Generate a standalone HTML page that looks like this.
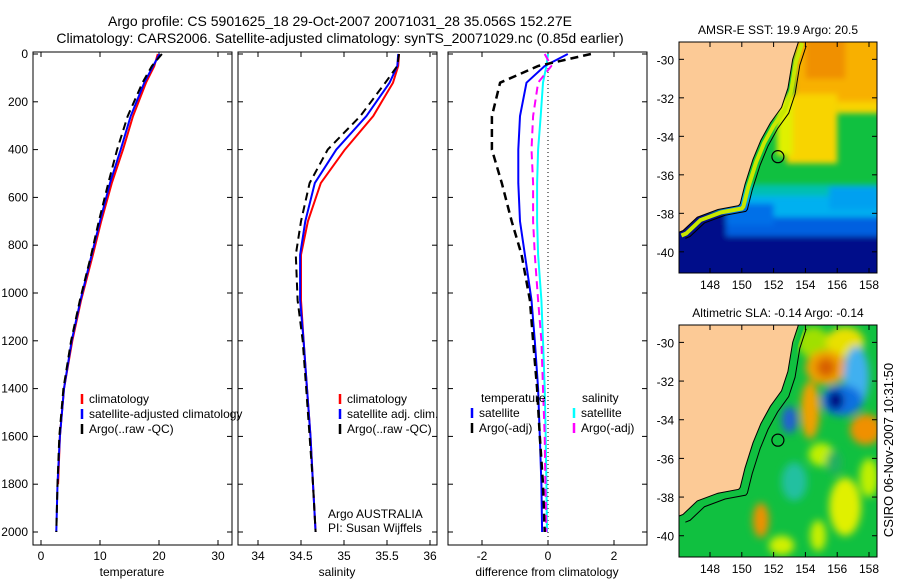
<!DOCTYPE html>
<html><head><meta charset="utf-8"><style>
body{margin:0;background:#fff;font-family:"Liberation Sans",sans-serif}
svg text{font-family:"Liberation Sans",sans-serif}
</style></head><body>
<svg id="s" width="900" height="580" viewBox="0 0 900 580" xmlns="http://www.w3.org/2000/svg">
<defs>
<filter id="bl" x="-20%" y="-20%" width="140%" height="140%"><feGaussianBlur stdDeviation="3"/></filter>
<filter id="bl2" x="-50%" y="-50%" width="200%" height="200%"><feGaussianBlur stdDeviation="4"/></filter>
<clipPath id="c1"><rect x="679" y="42" width="198" height="231"/></clipPath>
<clipPath id="c2"><rect x="679" y="325" width="198" height="232"/></clipPath>
<clipPath id="p1"><rect x="33" y="52" width="199" height="493"/></clipPath>
<clipPath id="p2"><rect x="238" y="52" width="199" height="493"/></clipPath>
<clipPath id="p3"><rect x="448" y="52" width="199" height="493"/></clipPath>
</defs>
<text x="340" y="26" font-size="14" text-anchor="middle">Argo profile: CS 5901625_18 29-Oct-2007 20071031_28 35.056S 152.27E</text>
<text x="340" y="43" font-size="14" text-anchor="middle">Climatology: CARS2006. Satellite-adjusted climatology: synTS_20071029.nc (0.85d earlier)</text>
<g id="g"></g>
<text transform="translate(893,450) rotate(-90)" font-size="13" text-anchor="middle">CSIRO 06-Nov-2007 10:31:50</text>
</svg>
<script>
// ---------- data ----------
const depths=[0,50,120,260,400,540,700,840,1030,1200,1400,1600,1800,2000];
const tempClim=[19.8,19.2,17.8,15.6,13.9,12.0,10.2,8.8,6.8,5.3,3.9,3.2,2.9,2.7];
const tempSat=[20.1,19.0,17.5,15.2,13.5,11.7,10.0,8.6,6.7,5.2,3.9,3.2,2.8,2.6];
const tempArgo=[20.5,18.8,17.2,14.7,12.9,11.4,9.8,8.5,6.6,5.1,3.8,3.1,2.8,2.6];
const salClim=[35.64,35.63,35.57,35.34,35.01,34.73,34.58,34.50,34.50,34.53,34.57,34.61,34.64,34.67];
const salSat=[35.63,35.62,35.53,35.26,34.91,34.66,34.55,34.49,34.49,34.53,34.57,34.61,34.64,34.67];
const salArgo=[35.64,35.62,35.48,35.19,34.81,34.60,34.50,34.44,34.46,34.52,34.56,34.60,34.64,34.67];
const dTempSat=[0.6,-0.1,-0.65,-0.85,-0.9,-0.9,-0.85,-0.7,-0.5,-0.4,-0.3,-0.25,-0.2,-0.18];
const dTempArgo=[1.3,-0.3,-1.45,-1.7,-1.7,-1.4,-1.1,-0.8,-0.55,-0.45,-0.33,-0.25,-0.15,-0.1];
const dSalSat=[0,-0.05,-0.15,-0.22,-0.3,-0.33,-0.33,-0.3,-0.2,-0.15,-0.1,-0.07,-0.05,-0.03];
const dSalArgo=[-0.1,0.1,-0.3,-0.45,-0.5,-0.45,-0.45,-0.4,-0.3,-0.2,-0.15,-0.1,-0.08,-0.05];
const depthTicks=[0,200,400,600,800,1000,1200,1400,1600,1800,2000];
const tTicks=[0,10,20,30];
const sTicks=[34,34.5,35,35.5,36];
const dTicks=[-2,0,2];
const latTicks=[-30,-32,-34,-36,-38,-40];
const lonTicks=[148,150,152,154,156,158];
// ---------- helpers ----------
const NS='http://www.w3.org/2000/svg',G=document.getElementById('g');
function mk(t,a,p){const e=document.createElementNS(NS,t);for(const k in a)e.setAttribute(k,a[k]);(p||G).appendChild(e);return e}
const yD=d=>54+d*(478/2000);
const xT=v=>41+v*5.9, xS=v=>258+(v-34)*86, xDf=v=>548+v*33;
function panel(x0,ticks,fx,lab,name,ylab){
  mk('rect',{x:x0,y:52,width:199,height:493,fill:'none',stroke:'#000',});
  ticks.forEach(t=>{const x=fx(t);mk('line',{x1:x,x2:x,y1:545,y2:540,stroke:'#000'});mk('line',{x1:x,x2:x,y1:52,y2:57,stroke:'#000'});
    const e=mk('text',{x:x,y:560,'font-size':12,'text-anchor':'middle'});e.textContent=t;});
  const l=mk('text',{x:x0+99,y:576,'font-size':12,'text-anchor':'middle'});l.textContent=lab;
  
  depthTicks.forEach(d=>{const y=yD(d);mk('line',{x1:x0,x2:x0+5,y1:y,y2:y,stroke:'#000'});mk('line',{x1:x0+199,x2:x0+194,y1:y,y2:y,stroke:'#000'});
    if(ylab){const e=mk('text',{x:28,y:y+4,'font-size':12,'text-anchor':'end'});e.textContent=d;}});
}
function line(vals,fx,col,dash,clip,name,w){
  const pts=vals.map((v,i)=>fx(v).toFixed(1)+','+yD(depths[i]).toFixed(1)).join(' ');
  const e=mk('polyline',{points:pts,fill:'none',stroke:col,'stroke-width':w||2,'stroke-dasharray':dash||'none','stroke-linejoin':'round','clip-path':'url(#'+clip+')'});
  
}
function leg(x,y,col,txt,name){
  mk('line',{x1:x,x2:x,y1:y-9,y2:y+1,stroke:col,'stroke-width':2.5});
  const e=mk('text',{x:x+7,y:y,'font-size':12});e.textContent=txt;
}
panel(33,tTicks,xT,'temperature','temperature-panel',true);
line(tempClim.slice(0,13),xT,'#f00',null,'p1','temp-climatology-line');
line(tempSat,xT,'#00f',null,'p1','temp-satellite-line');
line(tempArgo,xT,'#000','8,5','p1','temp-argo-line');
leg(82,403,'#f00','climatology','legend-climatology');
leg(82,418,'#00f','satellite-adjusted climatology','legend-satellite');
leg(82,433,'#000','Argo(..raw -QC)','legend-argo');
panel(238,sTicks,xS,'salinity','salinity-panel',false);
line(salClim,xS,'#f00',null,'p2','sal-climatology-line');
line(salSat,xS,'#00f',null,'p2','sal-satellite-line');
line(salArgo,xS,'#000','8,5','p2','sal-argo-line');
leg(340,403,'#f00','climatology','legend-climatology-2');
leg(340,418,'#00f','satellite adj. clim.','legend-satellite-2');
leg(340,433,'#000','Argo(..raw -QC)','legend-argo-2');
let t=mk('text',{x:328,y:518,'font-size':12});t.textContent='Argo AUSTRALIA';
t=mk('text',{x:328,y:532,'font-size':12});t.textContent='PI: Susan Wijffels';
panel(448,dTicks,xDf,'difference from climatology','difference-panel',false);
mk('line',{x1:548,x2:548,y1:52,y2:545,stroke:'#000','stroke-dasharray':'1,3'});
line(dSalSat,xDf,'#0ff',null,'p3','dsal-satellite-line');
line(dSalArgo,xDf,'#f0f','8,5','p3','dsal-argo-line');
line(dTempSat,xDf,'#00f',null,'p3','dtemp-satellite-line');
line(dTempArgo,xDf,'#000','8,5','p3','dtemp-argo-line',2.5);
t=mk('text',{x:481,y:402,'font-size':12});t.textContent='temperature';
t=mk('text',{x:582,y:402,'font-size':12});t.textContent='salinity';
leg(472,417,'#00f','satellite','legend-dtemp-sat');
leg(472,432,'#000','Argo(-adj)','legend-dtemp-argo');
leg(574,417,'#0ff','satellite','legend-dsal-sat');
leg(574,432,'#f0f','Argo(-adj)','legend-dsal-argo');
// ---------- maps ----------
const coast=[[153.6,-29],[153.2,-30],[152.9,-31.5],[152.5,-32.5],[151.8,-33.3],[151.2,-34.2],[150.7,-35.2],[150.2,-36.5],[149.9,-37.5],[149.8,-37.6],[148.5,-37.8],[147.2,-38.2],[146.3,-38.9],[146,-39]];
function map(y0,h,latTop,latBot,clip,title,rects,blobs,bg,shelf,name){
  const fx=l=>679+(l-146.05)*15.9, fy=la=>y0+(latTop-la)/(latTop-latBot)*h;
  const g=mk('g',{'clip-path':'url(#'+clip+')',});
  mk('rect',{x:669,y:y0-10,width:218,height:h+20,fill:bg},g);
  const gr=mk('g',{filter:'url(#bl)'},g);
  rects.forEach(r=>mk('rect',{x:fx(r[0]),y:fy(r[3]),width:(r[1]-r[0])*15.9,height:(r[3]-r[2])*19.3,fill:r[4]},gr));
  const gb=mk('g',{filter:'url(#bl2)'},g);
  blobs.forEach(b=>mk('ellipse',{cx:fx(b[0]),cy:fy(b[1]),rx:b[2]*15.9,ry:b[3]*19.3,fill:b[4]},gb));
  mk('polyline',{points:coast.map(c=>fx(c[0]+0.2)+','+fy(c[1]-0.15)).join(' '),fill:'none',stroke:shelf,'stroke-width':4},g);
  const cp=coast.map(c=>fx(c[0])+','+fy(c[1])).join(' ');
  mk('polygon',{points:fx(146)+','+fy(latTop+1)+' '+cp+' '+fx(146)+','+fy(-39),fill:'#fcca96',stroke:'#000','stroke-width':1},g);
  mk('polyline',{points:coast.map(c=>fx(c[0]+0.45)+','+fy(c[1]-0.3)).join(' '),fill:'none',stroke:'#000','stroke-width':1},g);
  mk('circle',{cx:fx(152.27),cy:fy(-35.056),r:6,fill:'none',stroke:'#000','stroke-width':1.2,},g);
  mk('rect',{x:679,y:y0,width:198,height:h,fill:'none',stroke:'#000'});
  latTicks.forEach(la=>{const y=fy(la);mk('line',{x1:679,x2:684,y1:y,y2:y,stroke:'#000'});mk('line',{x1:877,x2:872,y1:y,y2:y,stroke:'#000'});
    const e=mk('text',{x:674,y:y+5,'font-size':12,'text-anchor':'end'});e.textContent=la;});
  lonTicks.forEach(l=>{const x=fx(l);mk('line',{x1:x,x2:x,y1:y0,y2:y0+5,stroke:'#000'});mk('line',{x1:x,x2:x,y1:y0+h,y2:y0+h-5,stroke:'#000'});
    const e=mk('text',{x:x,y:y0+h+16,'font-size':12,'text-anchor':'middle'});e.textContent=l;});
  const e=mk('text',{x:778,y:y0-8,'font-size':12,'text-anchor':'middle'});e.textContent=title;
  
}
map(42,231,-29.1,-41.1,'c1','AMSR-E SST: 19.9 Argo: 20.5',[
 [153.3,159,-32.3,-28,'#f8b000'],[154,156.5,-31,-28,'#f09000'],
 [152.8,156,-35.4,-31.8,'#f8d400'],[152.2,153.2,-35,-32,'#e0f000'],[156,159,-32.8,-32.2,'#f8d400'],
 [145,160,-37.2,-36.5,'#00c0b0'],[145,160,-38.3,-37.1,'#00b0f0'],[145,160,-39.3,-38.2,'#0060e0'],
 [145,160,-42,-39.2,'#00108a'],[145,149,-42,-37.8,'#00108a'],[155.5,158.6,-37.8,-36.6,'#00a0f0'],[149,152,-38.6,-37.5,'#0070e8']
],[],'#10c040','#c8e800','sst-map');
map(325,232,-29.1,-41.1,'c2','Altimetric SLA: -0.14 Argo: -0.14',[],[
 [154.5,-30,1,0.8,'#a0e000'],[156.5,-30,1.2,0.8,'#e8e000'],
 [155.3,-31.3,1.3,0.9,'#f0a000'],[155.3,-31.3,0.6,0.5,'#d86000'],[154.3,-33.5,0.6,1.5,'#f0a000'],
 [157.2,-31.8,0.8,1.6,'#40b0f0'],[156.3,-33,1.3,0.8,'#1070e0'],[155.9,-33,0.5,0.5,'#000080'],
 [153,-34,0.5,0.7,'#2060d0'],[157.8,-34.5,1,0.8,'#f09000'],[151.2,-39.2,0.5,0.9,'#f09000'],
 [153.3,-37.2,0.8,1,'#20c0a0'],[156.5,-38.5,1,1.5,'#e0f000'],[158,-37,0.6,1,'#c0f000'],
 [155,-35.8,0.8,0.6,'#c0f000'],[152.5,-40.5,0.8,0.5,'#d0f000'],[154.8,-40,0.5,0.8,'#c8f000'],[155.8,-36.2,0.5,0.6,'#20b060']
],'#10c040','#10c040','sla-map');
</script>
</body></html>
